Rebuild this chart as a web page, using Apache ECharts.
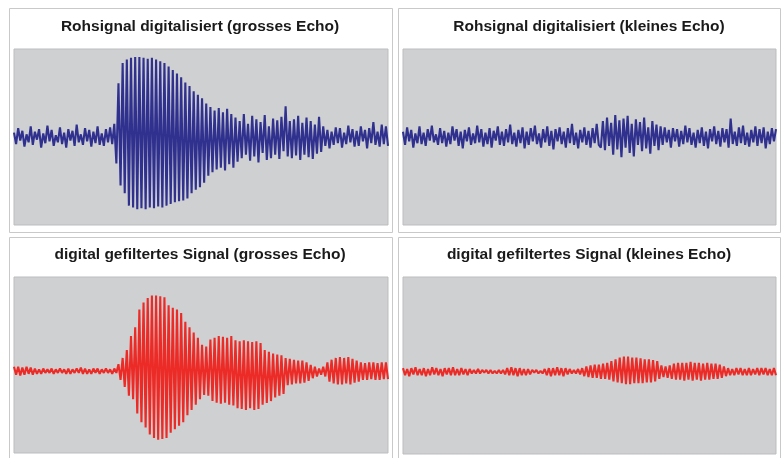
<!DOCTYPE html>
<html>
<head>
<meta charset="utf-8">
<script src="https://cdn.jsdelivr.net/npm/echarts@6/dist/echarts.min.js"></script>
<style>
html,body{margin:0;padding:0;background:#fff;}
#c{width:784px;height:458px;}
</style>
</head>
<body>
<div id="c"></div>
<script>
// Panel titles
var titles = [
  "Rohsignal digitalisiert (grosses Echo)",
  "Rohsignal digitalisiert (kleines Echo)",
  "digital gefiltertes Signal (grosses Echo)",
  "digital gefiltertes Signal (kleines Echo)"
];

// Raw signal, big echo (sample amplitudes)
var rawBig = [
  5,-8,10,-4,7,-11,3,-6,12,-9, 6,-3,9,-12,4,-7,13,-5,8,-10,
  2,-6,11,-8,5,-12,9,-4,7,-10, 14,-6,3,-9,10,-5,8,-11,6,-7,
  12,-9,4,-10,9,-6,11,-8,
  15,-30,61,-55,84,-64,
  88,-78,90,-80,91,-82,91,-81,90,-82,89,-80,90,-81,88,-79,86,-80,84,-78,
  80,-76,76,-74,72,-73,68,-72,62,-70,58,
  -64,52,-60,48,-57,44,-52,38,
  -44,34,-40,30,-37,33,-35,28,-38,32,-31,26,-35,
  22,-28,18,-24,26,-20,15,-27,24,-22,20,-29,17,-18,25,-26,12,-24,21,-20,19,-25,23,-16,35,-22,18,
  -24,20,-21,24,-26,16,-20,22,-23,18,-25,14,-19,23,-17,12,
  -10,8,-13,6,-9,11,-7,10,-12,5,-8,13,-6,9,-11,7,-10,12,-5,8,-13,10,-7,17,-9,6,-11,14,-8,12,-10
];

// Raw signal, small echo
var rawSmall = [
  6,-9,11,-5,8,-12,4,-7,12,-8,
  5,-10,9,-4,13,-6,3,-9,10,-7,
  7,-11,5,-8,12,-4,9,-10,6,-13,
  8,-5,11,-9,4,-7,13,-6,9,-11,
  5,-8,10,-12,7,-4,12,-9,6,-10,
  9,-6,14,-8,5,-11,8,-7,11,-13,
  6,-9,10,-5,13,-8,4,-12,9,-6,
  12,-10,7,-14,9,-5,11,-8,6,-12,
  10,-7,15,-9,5,-13,8,-6,11,-9,
  7,-12,10,-7,15,-9,
  -12,18,-15,22,-10,16,-20,25,-14,19,-23,21,-12,24,-18,15,-22,20,-9,17,-16,22,-13,11,-19,18,-10,14,-15,12,
  -9,11,-6,8,-12,10,-5,9,-11,7,-8,13,-6,10,-9,5,-12,8,-7,11,
  -10,6,-13,9,-5,12,-8,7,-11,10,-6,9,-12,21,-8,6,-10,11,-7,13,
  -9,5,-11,8,-6,12,-10,9,-7,11,-13,6,-8,10,-5,9
];

// Filtered signal, big echo
var filtBig = [
  5,-4,5,-5,4,-4,5,-3,4,-4, 3,-3,2,-3,3,-2,2,-2,3,-3,
  2,-2,3,-2,2,-3,3,-3,2,-2, 3,-2,4,-3,3,-3,2,-3,3,-2,
  3,-3,2,-2,3,-2,2,-3,3,-2,
  8,-10,15,-18,24,
  -28,40,-32,50,
  -48,70,-58,78,-64,
  83,-72,86,-76,86,-78,85,-77,84,-76,
  75,-70,72,-66,70,-62,66,-58,
  56,-50,50,-44,44,-38,38,-32,
  30,-27,28,-28,
  36,-34,38,-36,40,-37,39,-36,38,-38,40,-39,
  35,-42,34,-43,35,-44,34,-42,33,-44,34,-43,32,
  -38,24,-36,22,-34,20,-30,19,-28,18,-26,
  15,-16,14,-15,13,-14,12,-14,12,-13,10,-11,
  7,-8,5,-6,3,-4,5,-6,
  10,-12,13,-14,15,-15,16,-15,15,-14,16,-15,14,-13,12,-12,
  10,-10,9,-10,10,-9,10,-10,9,-10,10,-9,10,-9
];

// Filtered signal, small echo
var filtSmall = [
  4,-4,3,-5,4,-3,5,-4,3,-4, 4,-5,3,-4,5,-3,4,-4,3,-5,
  4,-3,4,-4,5,-4,3,-4,4,-3, 3,-4,3,
  -2,2,-2,3,-2,2,-1,2,-2,2,-2,1,-2,2,-2,2,
  -3,4,-4,5,-4,4,-5,4,-4,3,-4,3,-3,
  2,-1,2,-2,1,-2,
  3,-4,4,-5,4,-4,5,-4,4,-5,4,-3,3,
  -2,2,-2,3,-3,
  4,-5,6,-6,7,-7,8,-7,8,-8,9,-8,10,-9,
  12,-11,14,-12,16,-13,17,-14,17,-14,16,-13,16,-13,15,-13,14,-12,14,-12,13,-11,12,
  -8,7,-6,6,-7,7,
  -8,9,-9,10,-9,10,-10,10,-9,11,-10,10,-9,10,-10,9,-9,10,-9,9,-8,9,-8,8,-7,6,
  -5,4,-4,3,-4,4,-3,4,-4,3,-4,4,-4,3,-3,4,-4,4,-3,4,-4,3,-4,4,-4
];

var series = [rawBig, rawSmall, filtBig, filtSmall];
var colors = ['#30318f', '#30318f', '#ec2b27', '#ec2b27'];
var yRanges = [[-100, 100], [-100, 100], [-93, 107], [-93, 107]];

var gridPos = [
  {left: 14, top: 49, width: 374, height: 176},
  {left: 403, top: 49, width: 373, height: 176},
  {left: 14, top: 277, width: 374, height: 176},
  {left: 403, top: 277, width: 373, height: 177}
];
var boxes = [
  {x: 9, y: 8, w: 383, h: 224},
  {x: 398, y: 8, w: 382, h: 224},
  {x: 9, y: 237, w: 383, h: 232},
  {x: 398, y: 237, w: 382, h: 232}
];
var titlePos = [[200, 19], [589, 19], [200, 247], [589, 247]];

var chart = echarts.init(document.getElementById('c'), null, {renderer: 'canvas'});
var option = {
  animation: false,
  backgroundColor: '#ffffff',
  graphic: boxes.map(function (b) {
    return {
      type: 'rect', z: -10, silent: true,
      shape: {x: b.x + 0.5, y: b.y + 0.5, width: b.w, height: b.h},
      style: {fill: '#ffffff', stroke: '#c9c9c9', lineWidth: 1}
    };
  }),
  title: titles.map(function (t, k) {
    return {
      text: t, left: titlePos[k][0], top: titlePos[k][1], textAlign: 'center', padding: 0,
      textStyle: {fontFamily: 'Liberation Sans, Arial, sans-serif', fontSize: 15.5, fontWeight: 'bold', color: '#1a1a1a'}
    };
  }),
  grid: gridPos.map(function (g) {
    return {left: g.left, top: g.top, width: g.width, height: g.height, show: true,
      backgroundColor: '#cfd0d2', borderColor: '#bcbdbf', borderWidth: 1};
  }),
  xAxis: series.map(function (s, k) {
    return {type: 'category', gridIndex: k, boundaryGap: false,
      data: s.map(function (_, i) { return i; }), show: false};
  }),
  yAxis: series.map(function (s, k) {
    return {type: 'value', gridIndex: k, min: yRanges[k][0], max: yRanges[k][1], show: false};
  }),
  series: series.map(function (s, k) {
    return {type: 'line', xAxisIndex: k, yAxisIndex: k, data: s, showSymbol: false,
      lineStyle: {color: colors[k], width: 2.1}, itemStyle: {color: colors[k]}};
  })
};
chart.setOption(option);
</script>
</body>
</html>
